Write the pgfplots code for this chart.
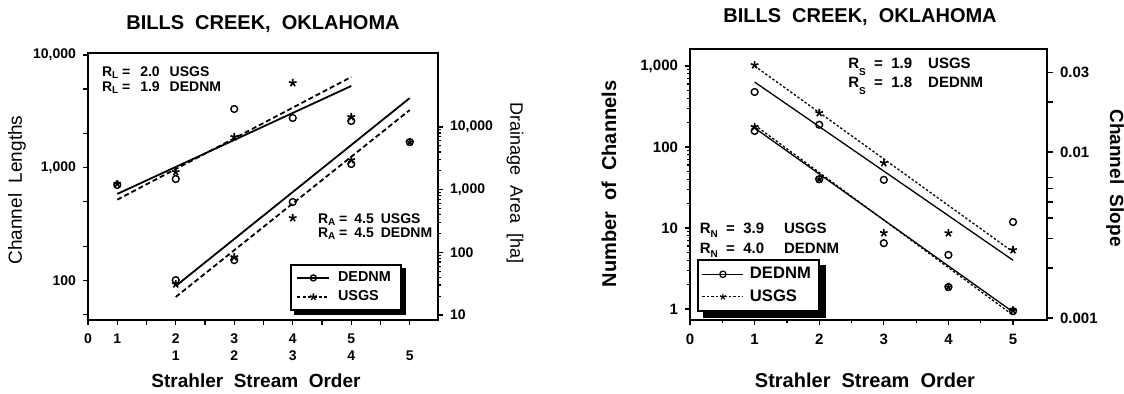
\documentclass[border=0pt]{standalone}
\usepackage{pgfplots}
\pgfplotsset{compat=1.18}
\usepackage{pgfplotstable}
\usepackage{fontspec}
\setmainfont{Liberation Sans}

% ---------- left panel: channel lengths (left axis) ----------
\pgfplotstableread{
x y
1 702
2 794
3 3318
4 2760
5 2596
}\LenDED
\pgfplotstableread{
x y
1 720
2 916
3 1873
4 5645
5 2818
}\LenUSGS
% ---------- left panel: drainage area (right axis), order+1 ----------
\pgfplotstableread{
x y
2 36
3 75
4 635
5 2565
6 5750
}\AreaDED
\pgfplotstableread{
x y
2 31
3 84
4 353
5 2970
6 5750
}\AreaUSGS
% ---------- right panel: number of channels (left axis) ----------
\pgfplotstableread{
x y
1 158
2 40
3 6.5
4 1.87
5 0.94
}\NumDED
\pgfplotstableread{
x y
1 177
2 40
3 8.7
4 1.87
5 0.96
}\NumUSGS
% ---------- right panel: channel slope (right axis) ----------
\pgfplotstableread{
x y
1 0.0230
2 0.0146
3 0.0068
4 0.0024
5 0.00379
}\SlopeDED
\pgfplotstableread{
x y
1 0.0334
2 0.0172
3 0.0086
4 0.00325
5 0.00257
}\SlopeUSGS

\newcommand\sub[2][-0.35ex]{\raisebox{#1}{\fontsize{5}{5}\selectfont #2}}
\newcommand\lfont{\fontsize{7}{8.5}\selectfont\bfseries}
\newcommand\rfont{\fontsize{7.5}{9}\selectfont\bfseries}

\pgfplotsset{
  oMark/.style={only marks, mark=o, mark size=1.7pt, mark options={line width=0.7pt, solid}, black},
  sMark/.style={only marks, mark=star, mark size=2pt, mark options={line width=0.8pt, solid}, black},
}

\begin{document}
\begin{tikzpicture}[ann/.style={anchor=base west, inner sep=0pt}]
\useasboundingbox (0,0) rectangle (562pt,196.5pt);

% ================= LEFT PANEL =================
\begin{axis}[
  at={(44pt,36.5pt)}, anchor=south west,
  scale only axis, width=175pt, height=133.5pt,
  xmin=0.5, xmax=6.483,
  ymode=log, ymin=44.5, ymax=10416,
  axis line style={line width=0.9pt},
  tick align=outside, xtick pos=left, ytick pos=left,
  major tick length=2.5pt, minor tick length=2.5pt,
  every tick/.style={line width=0.7pt, black},
  minor tick style={line width=0.7pt, black},
  xtick={0.5,1,2,3,4,5,6},
  minor xtick={1.5,2.5,3.5,4.5,5.5},
  xticklabels={0,1,{2\\1},{3\\2},{4\\3},{5\\4},{\vphantom{1}\\5}},
  xticklabel style={align=center, font=\lfont, yshift=-1pt},
  ytick={100,1000,10000},
  yticklabels={100,{1,000},{10,000}},
  minor ytick={50,200,500,2000,5000},
  yticklabel style={font=\lfont},
  legend cell align=left,
  legend image code/.code={\draw[#1, mark repeat=2, mark phase=2] plot coordinates {(0cm,0cm) (0.28cm,0cm) (0.56cm,0cm)};},
  legend style={name=legL, at={(0.577,0.035)}, anchor=south west, draw=black,
    line width=0.8pt, fill=white, font=\fontsize{7.2}{8}\selectfont\bfseries,
    inner xsep=3pt, inner ysep=1.2pt, row sep=-1pt, column sep=2pt},
]
\addlegendimage{black, line width=0.7pt, mark=o, mark size=1.5pt, mark options={solid}}
\addlegendentry{DEDNM}
\addlegendimage{black, line width=0.7pt, dash pattern=on 1.5pt off 1.2pt, mark=star, mark size=1.8pt, mark options={solid}}
\addlegendentry{USGS}
\addplot[black, line width=0.9pt, forget plot] coordinates {(1,585) (5,5310)};
\addplot[black, line width=0.9pt, dash pattern=on 2.5pt off 1.5pt, forget plot] coordinates {(1,520) (5,6380)};
\addplot[oMark, forget plot] table {\LenDED};
\addplot[sMark, forget plot] table {\LenUSGS};
\end{axis}
\fill[black] ([yshift=-2pt]legL.north east) rectangle ([xshift=2.2pt,yshift=-2.2pt]legL.south east);
\fill[black] ([xshift=2pt]legL.south west) rectangle ([xshift=2.2pt,yshift=-2.2pt]legL.south east);

\begin{axis}[
  at={(44pt,36.5pt)}, anchor=south west,
  scale only axis, width=175pt, height=133.5pt,
  xmin=0.5, xmax=6.483,
  ymode=log, ymin=8.318, ymax=151700,
  axis x line=none, axis y line*=right,
  axis line style={line width=0.9pt},
  tick align=outside,
  major tick length=2.5pt, minor tick length=1.5pt,
  every tick/.style={line width=0.6pt, black},
  minor tick style={line width=0.6pt, black},
  ytick={10,100,1000,10000},
  yticklabels={10,100,{1,000},{10,000}},
  minor ytick={20,30,40,50,60,70,80,90,200,300,400,500,600,700,800,900,2000,3000,4000,5000,6000,7000,8000,9000},
  yticklabel style={font=\lfont},
]
\addplot[black, line width=0.9pt] coordinates {(2,29) (6,28970)};
\addplot[black, line width=0.9pt, dash pattern=on 2.5pt off 1.5pt] coordinates {(2,19.4) (6,18650)};
\addplot[oMark] table {\AreaDED};
\addplot[sMark] table {\AreaUSGS};
\end{axis}

\node[font=\fontsize{10}{12}\selectfont\bfseries] at (131.5pt,184.5pt) {BILLS\ \ CREEK,\ \ OKLAHOMA};
\node[font=\fontsize{9.5}{11}\selectfont\bfseries] at (128pt,6pt) {Strahler\ \ Stream\ \ Order};
\node[font=\fontsize{9.5}{11}\selectfont, rotate=90] at (8.5pt,101.5pt) {Channel\ \ Lengths};
\node[font=\fontsize{9}{11}\selectfont, rotate=-90] at (257.5pt,105pt) {Drainage\ \ Area\ \ [ha]};
\node[ann, font=\lfont] at (50.8pt,158.5pt) {R\sub{L}\ =\hspace{5pt}2.0\hspace{5pt}USGS};
\node[ann, font=\lfont] at (50.8pt,151pt) {R\sub{L}\ =\hspace{5pt}1.9\hspace{5pt}DEDNM};
\node[ann, font=\lfont] at (158.8pt,85pt) {R\sub{A}\ =\hspace{3.5pt}4.5\hspace{3.5pt}USGS};
\node[ann, font=\lfont] at (158.8pt,78pt) {R\sub{A}\ =\hspace{3.5pt}4.5\hspace{3.5pt}DEDNM};

% ================= RIGHT PANEL =================
\begin{axis}[
  at={(345pt,36.5pt)}, anchor=south west,
  scale only axis, width=178.5pt, height=135.5pt,
  xmin=0, xmax=5.526,
  ymode=log, ymin=0.7314, ymax=1622,
  axis line style={line width=0.75pt},
  tick align=outside, xtick pos=left, ytick pos=left,
  major tick length=2.5pt, minor tick length=1.5pt,
  every tick/.style={line width=0.6pt, black},
  minor tick style={line width=0.6pt, black},
  xtick={0,1,2,3,4,5},
  minor xtick={0.5,1.5,2.5,3.5,4.5},
  xticklabels={0,1,2,3,4,5},
  xticklabel style={font=\rfont, yshift=-1pt},
  ytick={1,10,100,1000},
  yticklabels={1,10,100,{1,000}},
  yticklabel style={font=\rfont},
  legend cell align=left,
  legend image code/.code={\draw[#1, mark repeat=2, mark phase=2] plot coordinates {(0cm,0cm) (0.36cm,0cm) (0.72cm,0cm)};},
  legend style={name=legR, at={(0.0196,0.03)}, anchor=south west, draw=black,
    line width=0.8pt, fill=white, font=\fontsize{8.3}{9}\selectfont\bfseries,
    inner xsep=2pt, inner ysep=1.5pt, row sep=0pt, column sep=1pt},
]
\addlegendimage{black, line width=0.6pt, mark=o, mark size=1.6pt, mark options={solid}}
\addlegendentry{DEDNM}
\addlegendimage{black, line width=0.6pt, dash pattern=on 1.2pt off 1pt, mark=star, mark size=1.6pt, mark options={solid}}
\addlegendentry{USGS}
\addplot[black, line width=0.65pt, forget plot] coordinates {(1,172) (5,0.92)};
\addplot[black, line width=0.65pt, dash pattern=on 1.2pt off 1pt, forget plot] coordinates {(1,187) (5,0.84)};
\addplot[oMark, forget plot] table {\NumDED};
\addplot[sMark, forget plot] table {\NumUSGS};
\end{axis}
\fill[black] ([yshift=-3pt]legR.north east) rectangle ([xshift=3.2pt,yshift=-3.2pt]legR.south east);
\fill[black] ([xshift=3pt]legR.south west) rectangle ([xshift=3.2pt,yshift=-3.2pt]legR.south east);

\begin{axis}[
  at={(345pt,36.5pt)}, anchor=south west,
  scale only axis, width=178.5pt, height=135.5pt,
  xmin=0, xmax=5.526,
  ymode=log, ymin=0.000973, ymax=0.04174,
  axis x line=none, axis y line*=right,
  axis line style={line width=0.75pt},
  tick align=outside,
  major tick length=3pt, minor tick length=3pt,
  every tick/.style={line width=0.6pt, black},
  minor tick style={line width=0.6pt, black},
  ytick={0.001,0.01,0.03},
  yticklabels={0.001,0.01,0.03},
  minor ytick={0.002,0.003,0.004,0.005,0.006,0.007,0.02},
  yticklabel style={font=\rfont},
]
\addplot[black, line width=0.65pt] coordinates {(1,0.0264) (5,0.00223)};
\addplot[black, line width=0.65pt, dash pattern=on 1.2pt off 1pt] coordinates {(1,0.0330) (5,0.0025)};
\addplot[oMark] table {\SlopeDED};
\addplot[sMark] table {\SlopeUSGS};
\end{axis}

\node[font=\fontsize{10}{12}\selectfont\bfseries] at (430pt,188pt) {BILLS\ \ CREEK,\ \ OKLAHOMA};
\node[font=\fontsize{10}{12}\selectfont\bfseries] at (432.5pt,6.5pt) {Strahler\ \ Stream\ \ Order};
\node[font=\fontsize{10}{12}\selectfont\bfseries, rotate=90] at (304.5pt,104.5pt) {Number\ \ of\ \ Channels};
\node[font=\fontsize{9.5}{11}\selectfont\bfseries, rotate=-90] at (557.5pt,107.5pt) {Channel\ \ Slope};
\node[ann, font=\rfont] at (424pt,162.5pt) {R\sub[-0.9ex]{S}\ \ =\ \ 1.9\hspace{8pt}USGS};
\node[ann, font=\rfont] at (424pt,153pt) {R\sub[-0.9ex]{S}\ \ =\ \ 1.8\hspace{8pt}DEDNM};
\node[ann, font=\rfont] at (349.7pt,80pt) {R\sub[-0.6ex]{N}\ \ =\ \ 3.9\hspace{10pt}USGS};
\node[ann, font=\rfont] at (349.7pt,70pt) {R\sub[-0.6ex]{N}\ \ =\ \ 4.0\hspace{10pt}DEDNM};
\end{tikzpicture}
\end{document}
